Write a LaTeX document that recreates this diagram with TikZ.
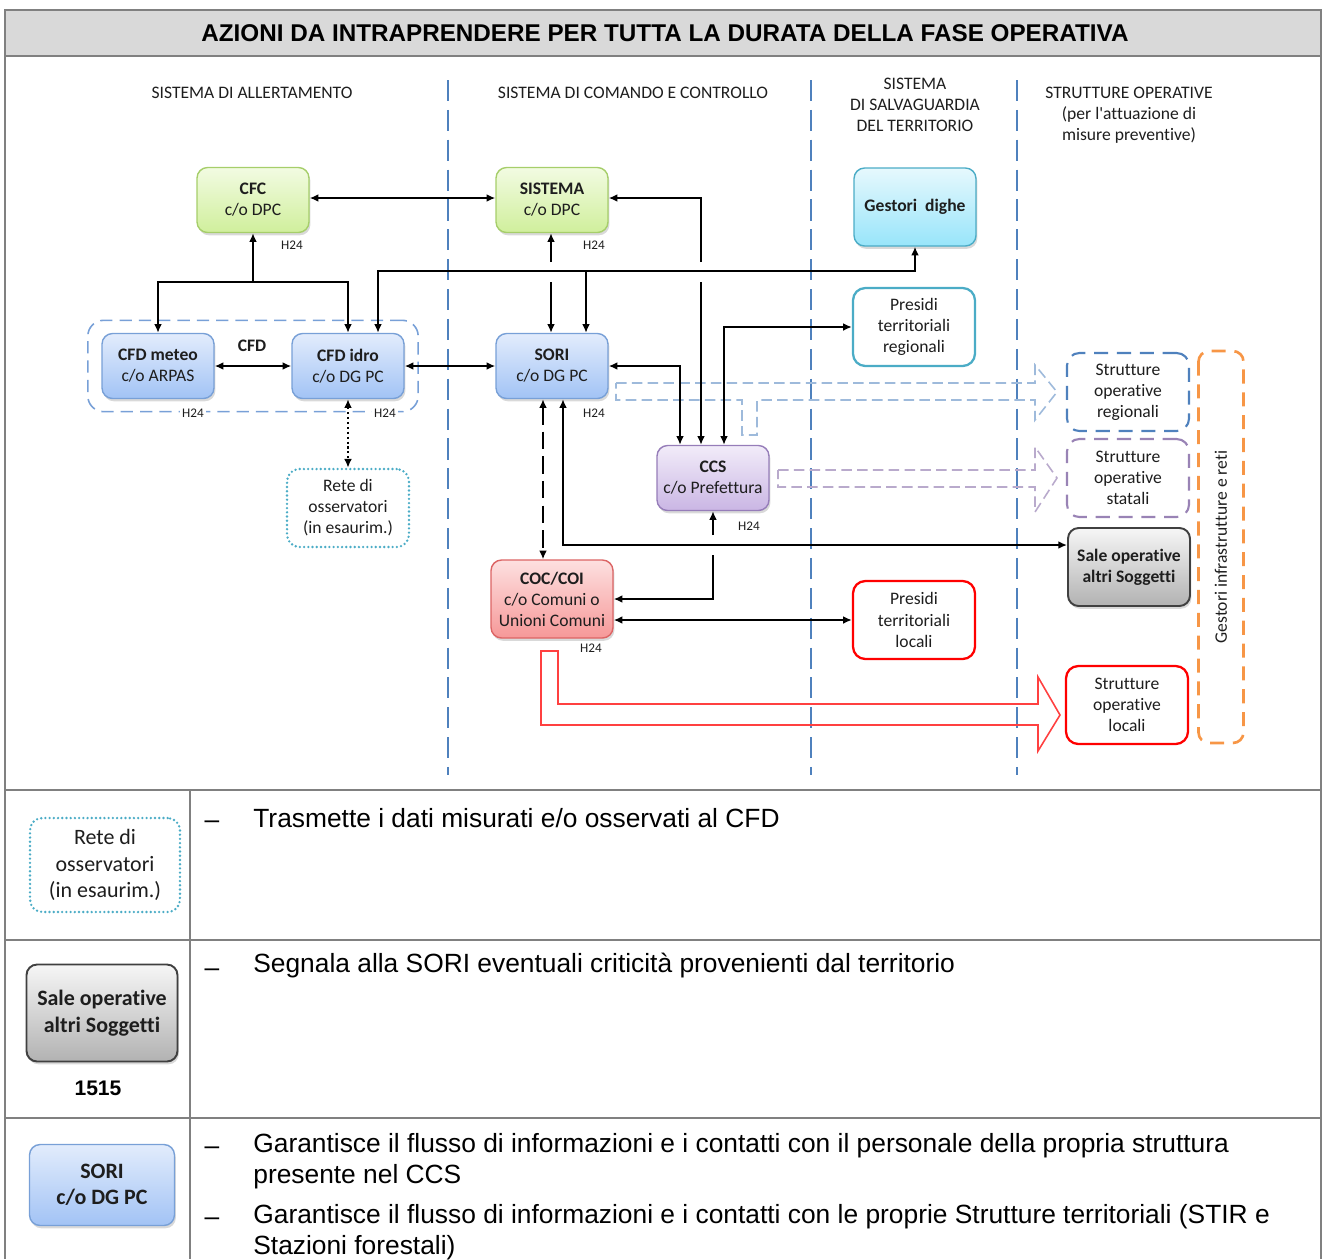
\documentclass[tikz,border=0pt]{standalone}
\usepackage{fontspec}
\setmainfont{Carlito}[Ligatures=NoCommon]
\newfontfamily\arialfont{Liberation Sans}
\usetikzlibrary{arrows.meta,positioning,calc,fit,shadows}

\definecolor{lnblue}{RGB}{79,129,189}
\definecolor{lnpurple}{RGB}{128,100,162}
\definecolor{lnorange}{RGB}{247,150,70}
\definecolor{lnteal}{RGB}{75,172,198}
\definecolor{lnred}{RGB}{255,0,0}
\definecolor{tabgray}{RGB}{128,128,128}
\definecolor{bandgray}{RGB}{217,217,217}
\definecolor{txtdark}{RGB}{30,30,30}
% box gradients (top / bottom / outline)
\definecolor{grntop}{RGB}{242,251,226}
\definecolor{grnbot}{RGB}{208,239,156}
\definecolor{grnline}{RGB}{166,206,106}
\definecolor{blutop}{RGB}{226,236,252}
\definecolor{blubot}{RGB}{162,195,245}
\definecolor{bluline}{RGB}{120,160,215}
\definecolor{purtop}{RGB}{242,236,249}
\definecolor{purbot}{RGB}{202,182,228}
\definecolor{purline}{RGB}{150,125,185}
\definecolor{redtop}{RGB}{253,224,224}
\definecolor{redbot}{RGB}{246,152,152}
\definecolor{redline}{RGB}{220,100,100}
\definecolor{cyntop}{RGB}{230,248,253}
\definecolor{cynbot}{RGB}{152,229,250}
\definecolor{gratop}{RGB}{246,246,246}
\definecolor{grabot}{RGB}{178,178,178}

\newcommand{\boxfont}{\fontsize{10}{12}\selectfont}
\newcommand{\tagfont}{\fontsize{7.5}{9}\selectfont}
\newcommand{\legfont}{\fontsize{12.5}{15}\selectfont}
\newcommand{\rowfont}{\arialfont\fontsize{15}{17.6}\selectfont}

\begin{document}
\begin{tikzpicture}[x=0.02cm, y=-0.02cm,
    office/.style={rectangle, rounded corners=6pt, align=center, font=\boxfont,
                   text=txtdark, minimum width=2.24cm, minimum height=1.3cm, inner sep=1pt,
                   line width=0.8pt,
                   drop shadow={shadow xshift=0.8pt, shadow yshift=-1.6pt, opacity=0.3}},
    wide/.style={minimum width=2.44cm, minimum height=1.56cm},
    greenbox/.style={office, draw=grnline, top color=grntop, bottom color=grnbot},
    bluebox/.style={office, draw=bluline, top color=blutop, bottom color=blubot},
    purplebox/.style={office, draw=purline, top color=purtop, bottom color=purbot},
    redbox/.style={office, wide, draw=redline, top color=redtop, bottom color=redbot},
    cyanbox/.style={office, wide, draw=lnteal, top color=cyntop, bottom color=cynbot},
    graybox/.style={office, wide, draw=black!75, line width=1.1pt, top color=gratop, bottom color=grabot},
    plainbox/.style={rectangle, rounded corners=7pt, align=center, font=\boxfont,
                     text=txtdark, wide, fill=white, line width=1.3pt, inner sep=1pt},
    dashbox/.style={plainbox, line width=1.2pt, dash pattern=on 8pt off 5pt},
    dotbox/.style={plainbox, draw=lnteal, line width=1.5pt, line cap=round,
                   dash pattern=on 0pt off 2.4pt},
    arr/.style={-{Latex[length=5pt,width=4.5pt]}, line width=1.1pt},
    arrs/.style={{Latex[length=5pt,width=4.5pt]}-{Latex[length=5pt,width=4.5pt]}, line width=1.1pt},
    divider/.style={lnblue, line width=1.5pt, dash pattern=on 12pt off 5pt},
    tag/.style={font=\tagfont, text=txtdark, inner sep=1pt},
    head/.style={font=\boxfont, text=txtdark, align=center},
    rowdash/.style={font=\rowfont, anchor=base, inner sep=0pt}
  ]
    \useasboundingbox (0,0) rectangle (1323,1259);

    % Table frame and title band
    \fill[bandgray] (5,10) rectangle (1321,56);
    \draw[tabgray, line width=1.2pt] (5,1259) -- (5,10) -- (1321,10) -- (1321,1259);
    \draw[tabgray, line width=1.2pt] (5,56) -- (1321,56);
    \draw[tabgray, line width=1.2pt] (5,790) -- (1321,790);
    \draw[tabgray, line width=1.2pt] (5,940) -- (1321,940);
    \draw[tabgray, line width=1.2pt] (5,1118) -- (1321,1118);
    \draw[tabgray, line width=1.2pt] (190,790) -- (190,1259);
    \node[font=\arialfont\bfseries\fontsize{13.8}{16}\selectfont] (title) at (665,33)
      {AZIONI DA INTRAPRENDERE PER TUTTA LA DURATA DELLA FASE OPERATIVA};

    % Column dividers
    \foreach \xd in {448, 811, 1017}
      \draw[divider] (\xd,80) -- (\xd,775);

    % Column headings
    \node[head] (hallert) at (252,93) {SISTEMA DI ALLERTAMENTO};
    \node[head] (hcomando) at (633,93) {SISTEMA DI COMANDO E CONTROLLO};
    \node[head] (hsalva) at (915,105) {SISTEMA\\DI SALVAGUARDIA\\DEL TERRITORIO};
    \node[head] (hstrutt) at (1129,115) {STRUTTURE OPERATIVE\\(per l\textquotesingle attuazione di\\misure preventive)};

    % Hollow flow arrows towards the operative structures
    \draw[lnblue!55, line width=0.9pt, dash pattern=on 6pt off 3pt]
      (616,383) -- (1035,383) -- (1035,365) -- (1057,392) -- (1035,420) -- (1035,400)
      -- (757,400) -- (757,435) -- (742,435) -- (742,400) -- (616,400) -- cycle;
    \draw[lnpurple!55, line width=0.9pt, dash pattern=on 6pt off 3pt]
      (778,470) -- (1035,470) -- (1035,447) -- (1057,478) -- (1035,512) -- (1035,487)
      -- (778,487) -- cycle;
    \draw[lnred!75, line width=0.9pt]
      (541,651) -- (558,651) -- (558,704) -- (1038,704) -- (1038,677) -- (1060,715)
      -- (1038,751) -- (1038,725) -- (541,725) -- cycle;

    % Alerting system
    \node[greenbox] (cfc) at (253,200) {\textbf{CFC}\\c/o DPC};
    \node[bluebox] (cfdmeteo) at (158,366) {\textbf{CFD meteo}\\c/o ARPAS};
    \node[bluebox] (cfdidro) at (348,366) {\textbf{CFD idro}\\c/o DG PC};
    \node[draw=bluline, line width=0.9pt, dash pattern=on 7pt off 4pt, rounded corners=9pt,
          inner xsep=0.27cm, inner ysep=0.25cm, fit=(cfdmeteo)(cfdidro)] (cfdgroup) {};
    \node[font=\boxfont\bfseries, text=txtdark] (cfdlabel) at (252,346) {CFD};
    \node[dotbox] (rete) at (348,508) {Rete di\\osservatori\\(in esaurim.)};

    % Command and control
    \node[greenbox] (sistema) at (552,200) {\textbf{SISTEMA}\\c/o DPC};
    \node[bluebox] (sori) at (552,366) {\textbf{SORI}\\c/o DG PC};
    \node[purplebox] (ccs) at (713,478) {\textbf{CCS}\\c/o Prefettura};
    \node[redbox] (coc) at (552,599) {\textbf{COC/COI}\\c/o Comuni o\\Unioni Comuni};

    % Territory safeguard
    \node[cyanbox] (dighe) at (915,207) {\textbf{Gestori\ \ dighe}};
    \node[plainbox, draw=lnteal] (presreg) at (914,327) {Presidi\\territoriali\\regionali};
    \node[plainbox, draw=lnred] (preslok) at (914,620) {Presidi\\territoriali\\locali};

    % Operative structures
    \node[dashbox, draw=lnblue] (stregion) at (1128,392) {Strutture\\operative\\regionali};
    \node[dashbox, draw=lnpurple!80] (ststat) at (1128,478) {Strutture\\operative\\statali};
    \node[graybox] (sale) at (1129,567) {\textbf{Sale operative}\\\textbf{altri\ Soggetti}};
    \node[plainbox, draw=lnred] (stlocal) at (1127,705) {Strutture\\operative\\locali};
    \node[rotate=90, draw=lnorange, line width=1.5pt, dash pattern=on 8pt off 5pt,
          rounded corners=6pt, minimum width=7.84cm, minimum height=0.9cm,
          font=\boxfont, text=txtdark] (gestori) at (1221,547) {Gestori infrastrutture e reti};

    % H24 tags
    \node[tag] (h24cfc) at (292,245) {H24};
    \node[tag] (h24sist) at (594,245) {H24};
    \node[tag, fill=white] (h24meteo) at (193,413) {H24};
    \node[tag, fill=white] (h24idro) at (385,413) {H24};
    \node[tag] (h24sori) at (594,413) {H24};
    \node[tag] (h24ccs) at (749,526) {H24};
    \node[tag] (h24coc) at (591,648) {H24};

    % Junctions and crossing gaps
    \coordinate (cfcfork) at (253,282);
    \coordinate (bus) at (586,271);
    \coordinate (sysgapA) at (551,262);
    \coordinate (sysgapB) at (551,282);
    \coordinate (ccsgapA) at (701,262);
    \coordinate (ccsgapB) at (701,282);
    \coordinate (cocgapA) at (713,535);
    \coordinate (cocgapB) at (713,555);

    % CFC tree
    \draw[arr] (cfcfork) -- (cfc.south);
    \draw[arr] (cfcfork) -| (cfdmeteo.north);
    \draw[arr] (cfcfork) -| (cfdidro.north);
    \draw[arrs] ($(cfc.east)+(0,-2)$) -- ($(sistema.west)+(0,-2)$);

    % Bus towards dams
    \draw[arrs] ($(cfdidro.north)+(30,0)$) |- (bus) -| (dighe.south);
    \draw[arr] (bus) -- (bus |- sori.north);

    % SISTEMA links
    \draw[arr] (sysgapA) -- (sysgapA |- sistema.south);
    \draw[arr] (sysgapB) -- (sysgapB |- sori.north);
    \draw[arr] (ccsgapA) |- ($(sistema.east)+(0,-2)$);
    \draw[arr] (ccsgapB) -- (ccsgapB |- ccs.north);

    % CFD and SORI
    \draw[arrs] (cfdmeteo.east) -- (cfdidro.west);
    \draw[arrs] (cfdidro.east) -- (sori.west);
    \draw[arrs, dash pattern=on 1.2pt off 1.6pt] (cfdidro.south) -- (rete.north);
    \draw[arrs] (sori.east) -| ($(ccs.north)+(-33,0)$);
    \draw[arrs] ($(ccs.north)+(11,0)$) |- (presreg.west);
    \draw[arrs, dash pattern=on 10pt off 4pt] ($(sori.south)+(-9,0)$) -- ($(coc.north)+(-9,0)$);
    \draw[arrs] ($(sori.south)+(11,0)$) |- ($(sale.west)+(0,-22)$);

    % CCS and COC
    \draw[arr] (cocgapA) -- (ccs.south);
    \draw[arr] (cocgapB) |- (coc.east);
    \draw[arrs] (preslok.west -| coc.east) -- (preslok.west);

    % Legend rows
    \node[dotbox, font=\legfont, minimum width=3.0cm, minimum height=1.88cm] (legrete)
      at (105,865) {Rete di\\osservatori\\(in esaurim.)};
    \node[graybox, font=\legfont, minimum width=3.02cm, minimum height=1.94cm] (legsale)
      at (102,1013) {\textbf{Sale operative}\\\textbf{altri\ Soggetti}};
    \node[font=\arialfont\bfseries\fontsize{12}{14}\selectfont] (legnum) at (98,1088) {1515};
    \node[bluebox, font=\legfont, minimum width=2.9cm, minimum height=1.62cm] (legsori)
      at (102,1185) {\textbf{SORI}\\\textbf{c/o DG PC}};

    \node[rowdash] (dash1) at (212,828) {–};
    \node[font=\rowfont, anchor=west, inner sep=0pt] (txt1) at (253,818)
      {Trasmette i dati misurati e/o osservati al CFD};
    \node[rowdash] (dash2) at (212,976) {–};
    \node[font=\rowfont, anchor=west, inner sep=0pt] (txt2) at (253,966)
      {Segnala alla SORI eventuali criticità provenienti dal territorio};
    \node[rowdash] (dash3) at (212,1154) {–};
    \node[font=\rowfont, anchor=north west, align=left, inner sep=0pt] (txt3) at (253,1133)
      {Garantisce il flusso di informazioni e i contatti con il personale della propria struttura\\presente nel CCS};
    \node[rowdash] (dash4) at (212,1225) {–};
    \node[font=\rowfont, anchor=north west, align=left, inner sep=0pt] (txt4) at (253,1204)
      {Garantisce il flusso di informazioni e i contatti con le proprie Strutture territoriali (STIR e\\Stazioni forestali)};
\end{tikzpicture}
\end{document}
